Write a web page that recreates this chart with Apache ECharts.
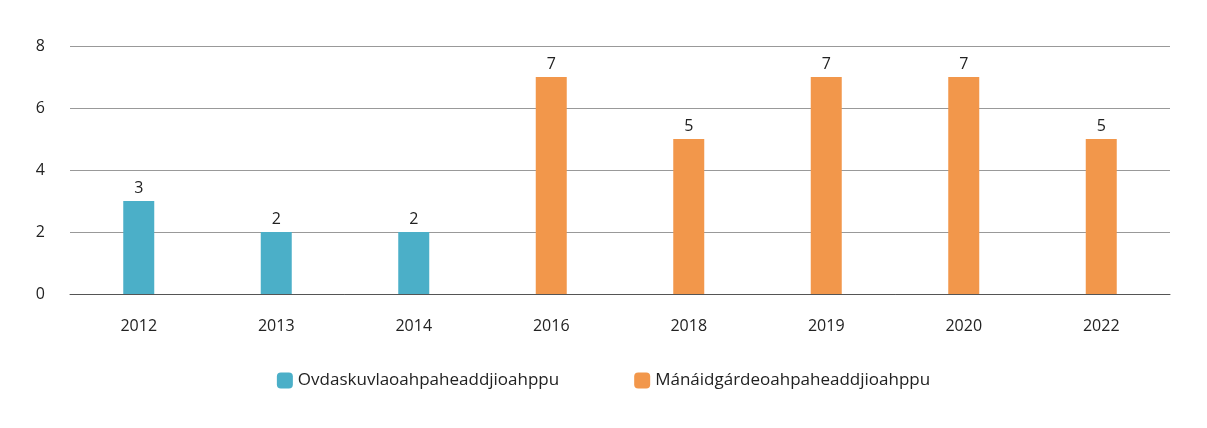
<!DOCTYPE html>
<html lang="en">
<head>
    <meta charset="UTF-8">
    <title>chart</title>
    <script src="https://cdn.jsdelivr.net/npm/echarts@6/dist/echarts.min.js"></script>
</head>
<body style="margin:0">
<div id="chart_bar" style="width:1207px;height:428px"></div>
<script>
    var years = ['2012','2013','2014','2016','2018','2019','2020','2022'];
    var ovdaskuvla = [3, 2, 2, null, null, null, null, null];
    var manaidgarde = [null, null, null, 7, 5, 7, 7, 5];

    var labelStyle = {show: true, position: 'top', color: '#222', fontSize: 16, fontFamily: 'Open Sans'};
    var option = {
        textStyle: {fontFamily: 'Open Sans'},
        grid: {left: 70, right: 37, top: 46, bottom: 134},
        legend: {
            bottom: 34, itemGap: 75, itemWidth: 16, itemHeight: 16,
            textStyle: {fontSize: 17, color: '#222'},
            data: ['Ovdaskuvlaoahpaheaddjioahppu', 'Mánáidgárdeoahpaheaddjioahppu']
        },
        xAxis: {
            type: 'category', data: years,
            axisLine: {lineStyle: {color: '#555'}},
            axisTick: {show: false},
            axisLabel: {color: '#222', fontSize: 16, margin: 24}
        },
        yAxis: {
            type: 'value', min: 0, max: 8, interval: 2,
            axisLabel: {color: '#222', fontSize: 16, margin: 25},
            splitLine: {lineStyle: {color: '#999'}}
        },
        series: [
            {name: 'Ovdaskuvlaoahpaheaddjioahppu', type: 'bar', stack: 'a', barWidth: 31,
             itemStyle: {color: '#4bafc8'}, label: labelStyle, data: ovdaskuvla},
            {name: 'Mánáidgárdeoahpaheaddjioahppu', type: 'bar', stack: 'a', barWidth: 31,
             itemStyle: {color: '#f2974b'}, label: labelStyle, data: manaidgarde}
        ]
    };
    var chart_bar = echarts.init(document.getElementById('chart_bar'));
    chart_bar.setOption(option);
</script>
</body>
</html>
